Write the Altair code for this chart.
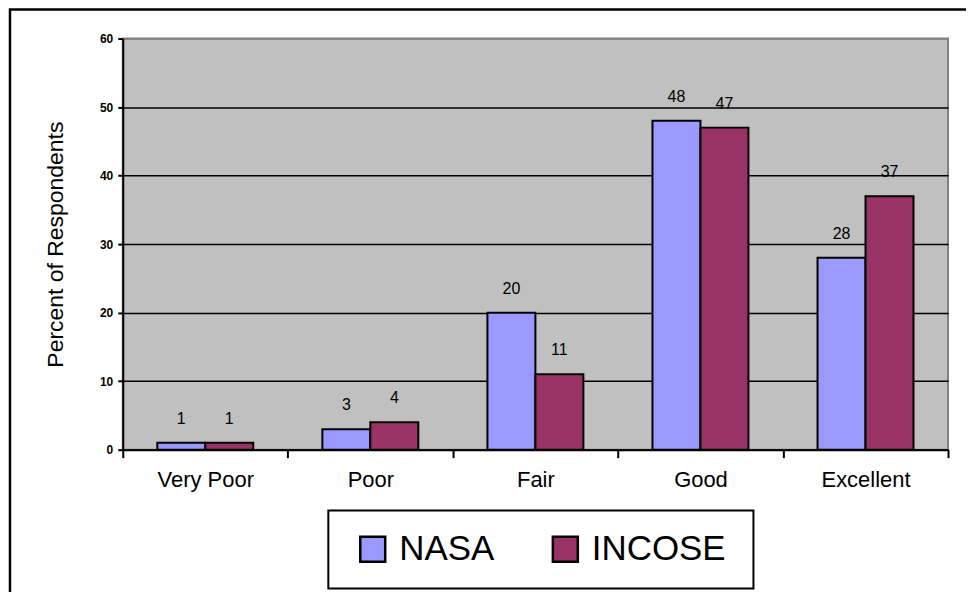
import altair as alt
import pandas as pd

categories = ["Very Poor", "Poor", "Fair", "Good", "Excellent"]
nasa = [1, 3, 20, 48, 28]
incose = [1, 4, 11, 47, 37]
series = ["NASA", "INCOSE"]
colors = ["#9999FF", "#993366"]

rows = []
for c, n, i in zip(categories, nasa, incose):
    rows.append({"category": c, "org": "NASA", "value": n})
    rows.append({"category": c, "org": "INCOSE", "value": i})
df = pd.DataFrame(rows)

FONT = "Liberation Sans"

base = alt.Chart(df).encode(
    x=alt.X(
        "category:N",
        sort=categories,
        scale=alt.Scale(paddingInner=0, paddingOuter=0),
        axis=alt.Axis(
            title=None,
            labelAngle=0,
            labelFont=FONT,
            labelFontSize=22,
            labelColor="black",
            labelPadding=12,
            tickBand="extent",
            tickSize=8,
            tickColor="black",
            tickWidth=2,
            domainColor="black",
            domainWidth=2,
            grid=False,
        ),
    ),
    xOffset=alt.XOffset(
        "org:N", sort=series, scale=alt.Scale(paddingInner=0, paddingOuter=0.72)
    ),
    y=alt.Y(
        "value:Q",
        scale=alt.Scale(domain=[0, 60], nice=False),
        axis=alt.Axis(
            title="Percent of Respondents",
            titleFont=FONT,
            titleFontSize=23,
            titleFontWeight="normal",
            titleColor="black",
            titleX=-55,
            values=[0, 10, 20, 30, 40, 50, 60],
            labelFont=FONT,
            labelFontSize=12,
            labelFontWeight="bold",
            labelColor="black",
            labelPadding=5,
            tickSize=5,
            tickColor="black",
            tickWidth=2,
            domainColor="black",
            domainWidth=2,
            grid=True,
            gridColor={
                "condition": {"test": "datum.value === 60", "value": "#808080"},
                "value": "black",
            },
            gridWidth=1.5,
        ),
    ),
)

bars = base.mark_bar(stroke="black", strokeWidth=2).encode(
    color=alt.Color(
        "org:N",
        sort=series,
        scale=alt.Scale(domain=series, range=colors),
        legend=alt.Legend(
            title=None,
            orient="none",
            direction="horizontal",
            legendX=233,
            legendY=494,
            padding=0,
            symbolType="square",
            symbolSize=625,
            symbolStrokeColor="black",
            symbolStrokeWidth=2.5,
            labelFont=FONT,
            labelFontSize=35,
            labelColor="black",
            labelOffset=9,
            columnPadding=53,
            labelLimit=400,
        ),
    )
)

labels = base.mark_text(
    dy=-24, baseline="middle", font=FONT, fontSize=16, color="black"
).encode(text="value:Q")

deco_df = pd.DataFrame({"k": [0]})
frame = alt.Chart(deco_df).mark_rect(
    fill=None, fillOpacity=0, stroke="black", strokeWidth=2.5, clip=False
).encode(
    x=alt.value(-113), x2=alt.value(1000), y=alt.value(-29), y2=alt.value(700)
)
legend_box = alt.Chart(deco_df).mark_rect(
    fill=None, fillOpacity=0, stroke="black", strokeWidth=2, clip=False
).encode(
    x=alt.value(206), x2=alt.value(632), y=alt.value(473), y2=alt.value(551)
)

chart = (
    alt.layer(bars, labels, frame, legend_box)
    .properties(
        width=827,
        height=412,
        autosize=alt.AutoSizeParams(type="none"),
        padding={"left": 115, "top": 30, "right": 18, "bottom": 142},
        background="white",
    )
    .configure_view(fill="#C0C0C0", stroke="#808080", strokeWidth=2)
)

chart.save("out.html", embed_options={"renderer": "svg", "actions": False})
